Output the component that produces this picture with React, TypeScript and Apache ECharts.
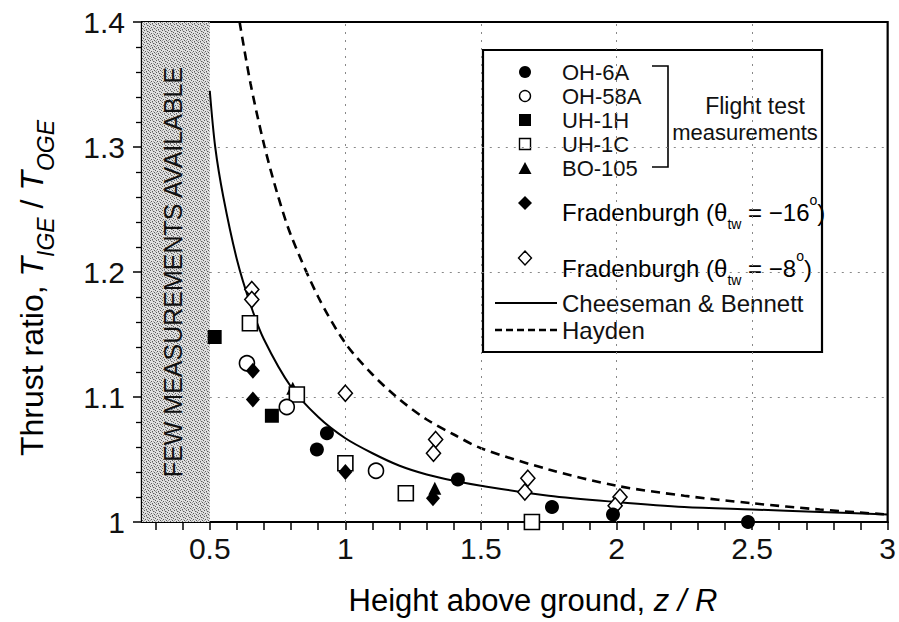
import React, { useEffect, useRef } from "react";
import * as echarts from "echarts";

const FONT = '"Liberation Sans", Arial, Helvetica, sans-serif';

// ---- data ----
const xTickLabels = [0.5, 1, 1.5, 2, 2.5, 3];
const xTicks = [0.3, 0.4, 0.5, 0.6, 0.7, 0.8, 0.9, 1.0, 1.1, 1.2, 1.3, 1.4, 1.5, 1.6, 1.7, 1.8, 1.9, 2.0, 2.1, 2.2, 2.3, 2.4, 2.5, 2.6, 2.7, 2.8, 2.9, 3.0];
const xGrid = [1, 1.5, 2, 2.5];
const yGrid = [1.1, 1.2, 1.3];

const oh6a = [[0.895, 1.058], [0.932, 1.071], [1.415, 1.034], [1.762, 1.012], [1.987, 1.006], [2.485, 1.0]];
const oh58a = [[0.637, 1.127], [0.784, 1.092], [1.113, 1.041]];
const uh1h = [[0.518, 1.148], [0.729, 1.085]];
const uh1c = [[0.648, 1.159], [0.821, 1.102], [1.0, 1.047], [1.223, 1.023], [1.688, 1.0]];
const bo105 = [[0.806, 1.107], [1.33, 1.027]];
const frad16 = [[0.659, 1.121], [0.659, 1.098], [1.0, 1.04], [1.323, 1.019]];
const frad8 = [[0.655, 1.186], [0.655, 1.178], [1.0, 1.103], [1.333, 1.066], [1.325, 1.055], [1.673, 1.035], [1.662, 1.024], [2.013, 1.02], [1.995, 1.013]];

const cbX = [0.5, 0.52, 0.55, 0.6, 0.65, 0.7, 0.8, 0.9, 1.0, 1.1, 1.2, 1.3, 1.4, 1.5, 1.75, 2.0, 2.25, 2.5, 2.75, 3.0];
const cbY = [1.345, 1.3, 1.26, 1.21, 1.174, 1.146, 1.108, 1.084, 1.067, 1.055, 1.045, 1.038, 1.033, 1.029, 1.021, 1.016, 1.012, 1.01, 1.008, 1.006];
const haydenX = [0.61, 0.65, 0.7, 0.75, 0.8, 0.9, 1.0, 1.1, 1.2, 1.3, 1.4, 1.5, 1.75, 2.0, 2.25, 2.5, 2.75, 3.0];
const haydenY = [1.4, 1.351, 1.302, 1.262, 1.229, 1.18, 1.143, 1.118, 1.098, 1.082, 1.07, 1.059, 1.042, 1.029, 1.021, 1.015, 1.01, 1.006];

const pairs = (xs: number[], ys: number[]) => xs.map((x, i) => [x, ys[i]]);

const open = { color: "#fff", borderColor: "#000", borderWidth: 1.6, opacity: 1 };
const filled = { color: "#000", opacity: 1 };

function stipple(): any {
  try {
    const c = document.createElement("canvas");
    c.width = 6;
    c.height = 6;
    const ctx = c.getContext("2d");
    if (!ctx) return "#c8c8c8";
    ctx.fillStyle = "#e0e0e0";
    ctx.fillRect(0, 0, 6, 6);
    ctx.fillStyle = "#5a5a5a";
    [[0, 0], [3, 1], [1, 3], [4, 4], [5, 2], [2, 5]].forEach(([x, y]) => ctx.fillRect(x, y, 1, 1));
    ctx.fillStyle = "#a0a0a0";
    [[2, 0], [5, 5], [0, 4], [4, 1], [3, 3]].forEach(([x, y]) => ctx.fillRect(x, y, 1, 1));
    return { image: c, repeat: "repeat" };
  } catch (e) {
    return "#c8c8c8";
  }
}

function buildOption() {
  const legendX = 525;
  const textX = 562;
  const lf = 24;
  const legend: any[] = [
    { type: "rect", shape: { x: 483, y: 50, width: 339, height: 302 }, style: { fill: "#fff", stroke: "#000", lineWidth: 2.2 } },
    { type: "circle", shape: { cx: legendX, cy: 72, r: 6 }, style: { fill: "#000" } },
    { type: "circle", shape: { cx: legendX, cy: 96, r: 5.5 }, style: { fill: "#fff", stroke: "#000", lineWidth: 1.4 } },
    { type: "rect", shape: { x: legendX - 6, y: 114, width: 12, height: 12 }, style: { fill: "#000" } },
    { type: "rect", shape: { x: legendX - 5.5, y: 138.5, width: 11, height: 11 }, style: { fill: "#fff", stroke: "#000", lineWidth: 1.4 } },
    { type: "polygon", shape: { points: [[legendX - 6.5, 174], [legendX + 6.5, 174], [legendX, 162]] }, style: { fill: "#000" } },
    { type: "polygon", shape: { points: [[legendX, 196], [legendX + 7, 203], [legendX, 210], [legendX - 7, 203]] }, style: { fill: "#000" } },
    { type: "polygon", shape: { points: [[legendX, 251], [legendX + 6.5, 258], [legendX, 265], [legendX - 6.5, 258]] }, style: { fill: "#fff", stroke: "#000", lineWidth: 1.4 } },
    { type: "polyline", shape: { points: [[652, 66], [668, 66], [668, 167], [652, 167]] }, style: { stroke: "#000", lineWidth: 1.6, fill: null } },
    { type: "line", shape: { x1: 495, y1: 303, x2: 557, y2: 303 }, style: { stroke: "#000", lineWidth: 2 } },
    { type: "line", shape: { x1: 495, y1: 330, x2: 557, y2: 330 }, style: { stroke: "#000", lineWidth: 2.4, lineDash: [7, 4] } },
  ];
  const stacked = [["OH-6A", 72], ["OH-58A", 96], ["UH-1H", 120], ["UH-1C", 144], ["BO-105", 168]] as [string, number][];
  stacked.forEach(([t, y]) => {
    legend.push({ type: "text", x: textX, y, style: { text: t, font: `22px ${FONT}`, fill: "#111", align: "left", verticalAlign: "middle" } });
  });
  const lines = [["Cheeseman & Bennett", 303], ["Hayden", 330]] as [string, number][];
  lines.forEach(([t, y]) => {
    legend.push({ type: "text", x: textX, y, style: { text: t, font: `${lf}px ${FONT}`, fill: "#111", align: "left", verticalAlign: "middle" } });
  });
  legend.push({ type: "text", x: 755, y: 106, style: { text: "Flight test", font: `23px ${FONT}`, fill: "#111", align: "center", verticalAlign: "middle" } });
  legend.push({ type: "text", x: 745, y: 132, style: { text: "measurements", font: `22px ${FONT}`, fill: "#111", align: "center", verticalAlign: "middle" } });
  const fradRich = {
    a: { fontSize: lf, fontFamily: FONT, color: "#111", verticalAlign: "middle", lineHeight: 30 },
    s: { fontSize: 14, fontFamily: FONT, color: "#111", verticalAlign: "bottom", lineHeight: 38 },
    p: { fontSize: 14, fontFamily: FONT, color: "#111", verticalAlign: "top", lineHeight: 38 },
  };
  legend.push({ type: "text", x: textX, y: 212, style: { text: "{a|Fradenburgh (θ}{s|tw}{a| = −16}{p|o}{a|)}", rich: fradRich, align: "left", verticalAlign: "middle" } });
  legend.push({ type: "text", x: textX, y: 268, style: { text: "{a|Fradenburgh (θ}{s|tw}{a| = −8}{p|o}{a|)}", rich: fradRich, align: "left", verticalAlign: "middle" } });

  const titleRich = (size: number, sub: number) => ({
    a: { fontSize: size, fontFamily: FONT, color: "#111", verticalAlign: "middle", lineHeight: 38 },
    i: { fontSize: size, fontFamily: FONT, fontStyle: "italic", color: "#111", verticalAlign: "middle", lineHeight: 38 },
    s: { fontSize: sub, fontFamily: FONT, fontStyle: "italic", color: "#111", verticalAlign: "bottom", lineHeight: 50 },
  });

  const graphics: any[] = [
    {
      type: "text", x: 173, y: 272, rotation: Math.PI / 2, z: 5,
      style: { text: "FEW MEASUREMENTS AVAILABLE", font: `25px ${FONT}`, fill: "#111", align: "center", verticalAlign: "middle" },
    },
    {
      type: "text", x: 32, y: 288, rotation: Math.PI / 2,
      style: { text: "{a|Thrust ratio, }{i|T}{s|IGE}{a| / }{i|T}{s|OGE}", rich: titleRich(32, 23), align: "center", verticalAlign: "middle" },
    },
    {
      type: "text", x: 533, y: 600,
      style: { text: "{a|Height above ground, }{i|z / R}", rich: titleRich(31, 22), align: "center", verticalAlign: "middle" },
    },
    { type: "group", z: 20, children: legend },
  ];

  const gridStyle = { type: [2, 6], color: "#888", width: 1 };

  return {
    animation: false,
    backgroundColor: "#fff",
    grid: { left: 142, right: 11, top: 22, bottom: 100, show: true, borderColor: "#000", borderWidth: 2.2, backgroundColor: "transparent" },
    xAxis: {
      type: "value", min: 0.25, max: 3,
      axisLine: { show: true, lineStyle: { color: "#000", width: 2.2 } },
      axisTick: { show: true, inside: false, length: 8, customValues: xTicks, lineStyle: { color: "#000", width: 1.5 } },
      axisLabel: { customValues: xTickLabels, formatter: (v: number) => String(v), fontSize: 30, fontFamily: FONT, color: "#111", margin: 11 },
      splitLine: { show: false },
    },
    yAxis: {
      type: "value", min: 1, max: 1.4, interval: 0.1,
      axisLine: { show: true, lineStyle: { color: "#000", width: 2.2 } },
      axisTick: { show: true, inside: false, length: 9, lineStyle: { color: "#000", width: 1.5 } },
      minorTick: { show: true, splitNumber: 5, length: 6, lineStyle: { color: "#000", width: 1.3 } },
      axisLabel: { formatter: (v: number) => String(+v.toFixed(1)), fontSize: 30, fontFamily: FONT, color: "#111", margin: 17 },
      splitLine: { show: false },
    },
    graphic: graphics,
    series: [
      {
        type: "line", data: [], silent: true,
        markArea: { silent: true, itemStyle: { color: stipple() }, data: [[{ xAxis: 0.25 }, { xAxis: 0.5 }]] },
        markLine: {
          silent: true, symbol: "none", label: { show: false }, lineStyle: gridStyle,
          data: [
            ...xGrid.map((x) => ({ xAxis: x })),
            ...yGrid.map((y) => [{ coord: [0.5, y] }, { coord: [3, y] }]),
          ],
        },
      },
      { name: "Cheeseman & Bennett", type: "line", data: pairs(cbX, cbY), showSymbol: false, smooth: 0.3, lineStyle: { color: "#000", width: 2 }, z: 3 },
      { name: "Hayden", type: "line", data: pairs(haydenX, haydenY), showSymbol: false, smooth: 0.3, lineStyle: { color: "#000", width: 2.6, type: [9, 6] }, z: 3 },
      { name: "BO-105", type: "scatter", data: bo105, symbol: "triangle", symbolSize: 13, itemStyle: filled, z: 4 },
      { name: "Fradenburgh -8", type: "scatter", data: frad8, symbol: "diamond", symbolSize: [14, 16], itemStyle: open, z: 5 },
      { name: "UH-1C", type: "scatter", data: uh1c, symbol: "rect", symbolSize: 15, itemStyle: open, z: 5 },
      { name: "OH-58A", type: "scatter", data: oh58a, symbol: "circle", symbolSize: 15, itemStyle: open, z: 5 },
      { name: "UH-1H", type: "scatter", data: uh1h, symbol: "rect", symbolSize: 14, itemStyle: filled, z: 6 },
      { name: "OH-6A", type: "scatter", data: oh6a, symbol: "circle", symbolSize: 14, itemStyle: filled, z: 6 },
      { name: "Fradenburgh -16", type: "scatter", data: frad16, symbol: "diamond", symbolSize: [14, 16], itemStyle: filled, z: 6 },
    ],
  };
}

export default function App() {
  const ref = useRef<HTMLDivElement>(null);
  useEffect(() => {
    const chart = echarts.init(ref.current!, null, { renderer: "svg" });
    chart.setOption(buildOption() as any);
    return () => chart.dispose();
  }, []);
  return <div ref={ref} style={{ position: "fixed", left: 0, top: 0, width: 899, height: 622 }} />;
}
